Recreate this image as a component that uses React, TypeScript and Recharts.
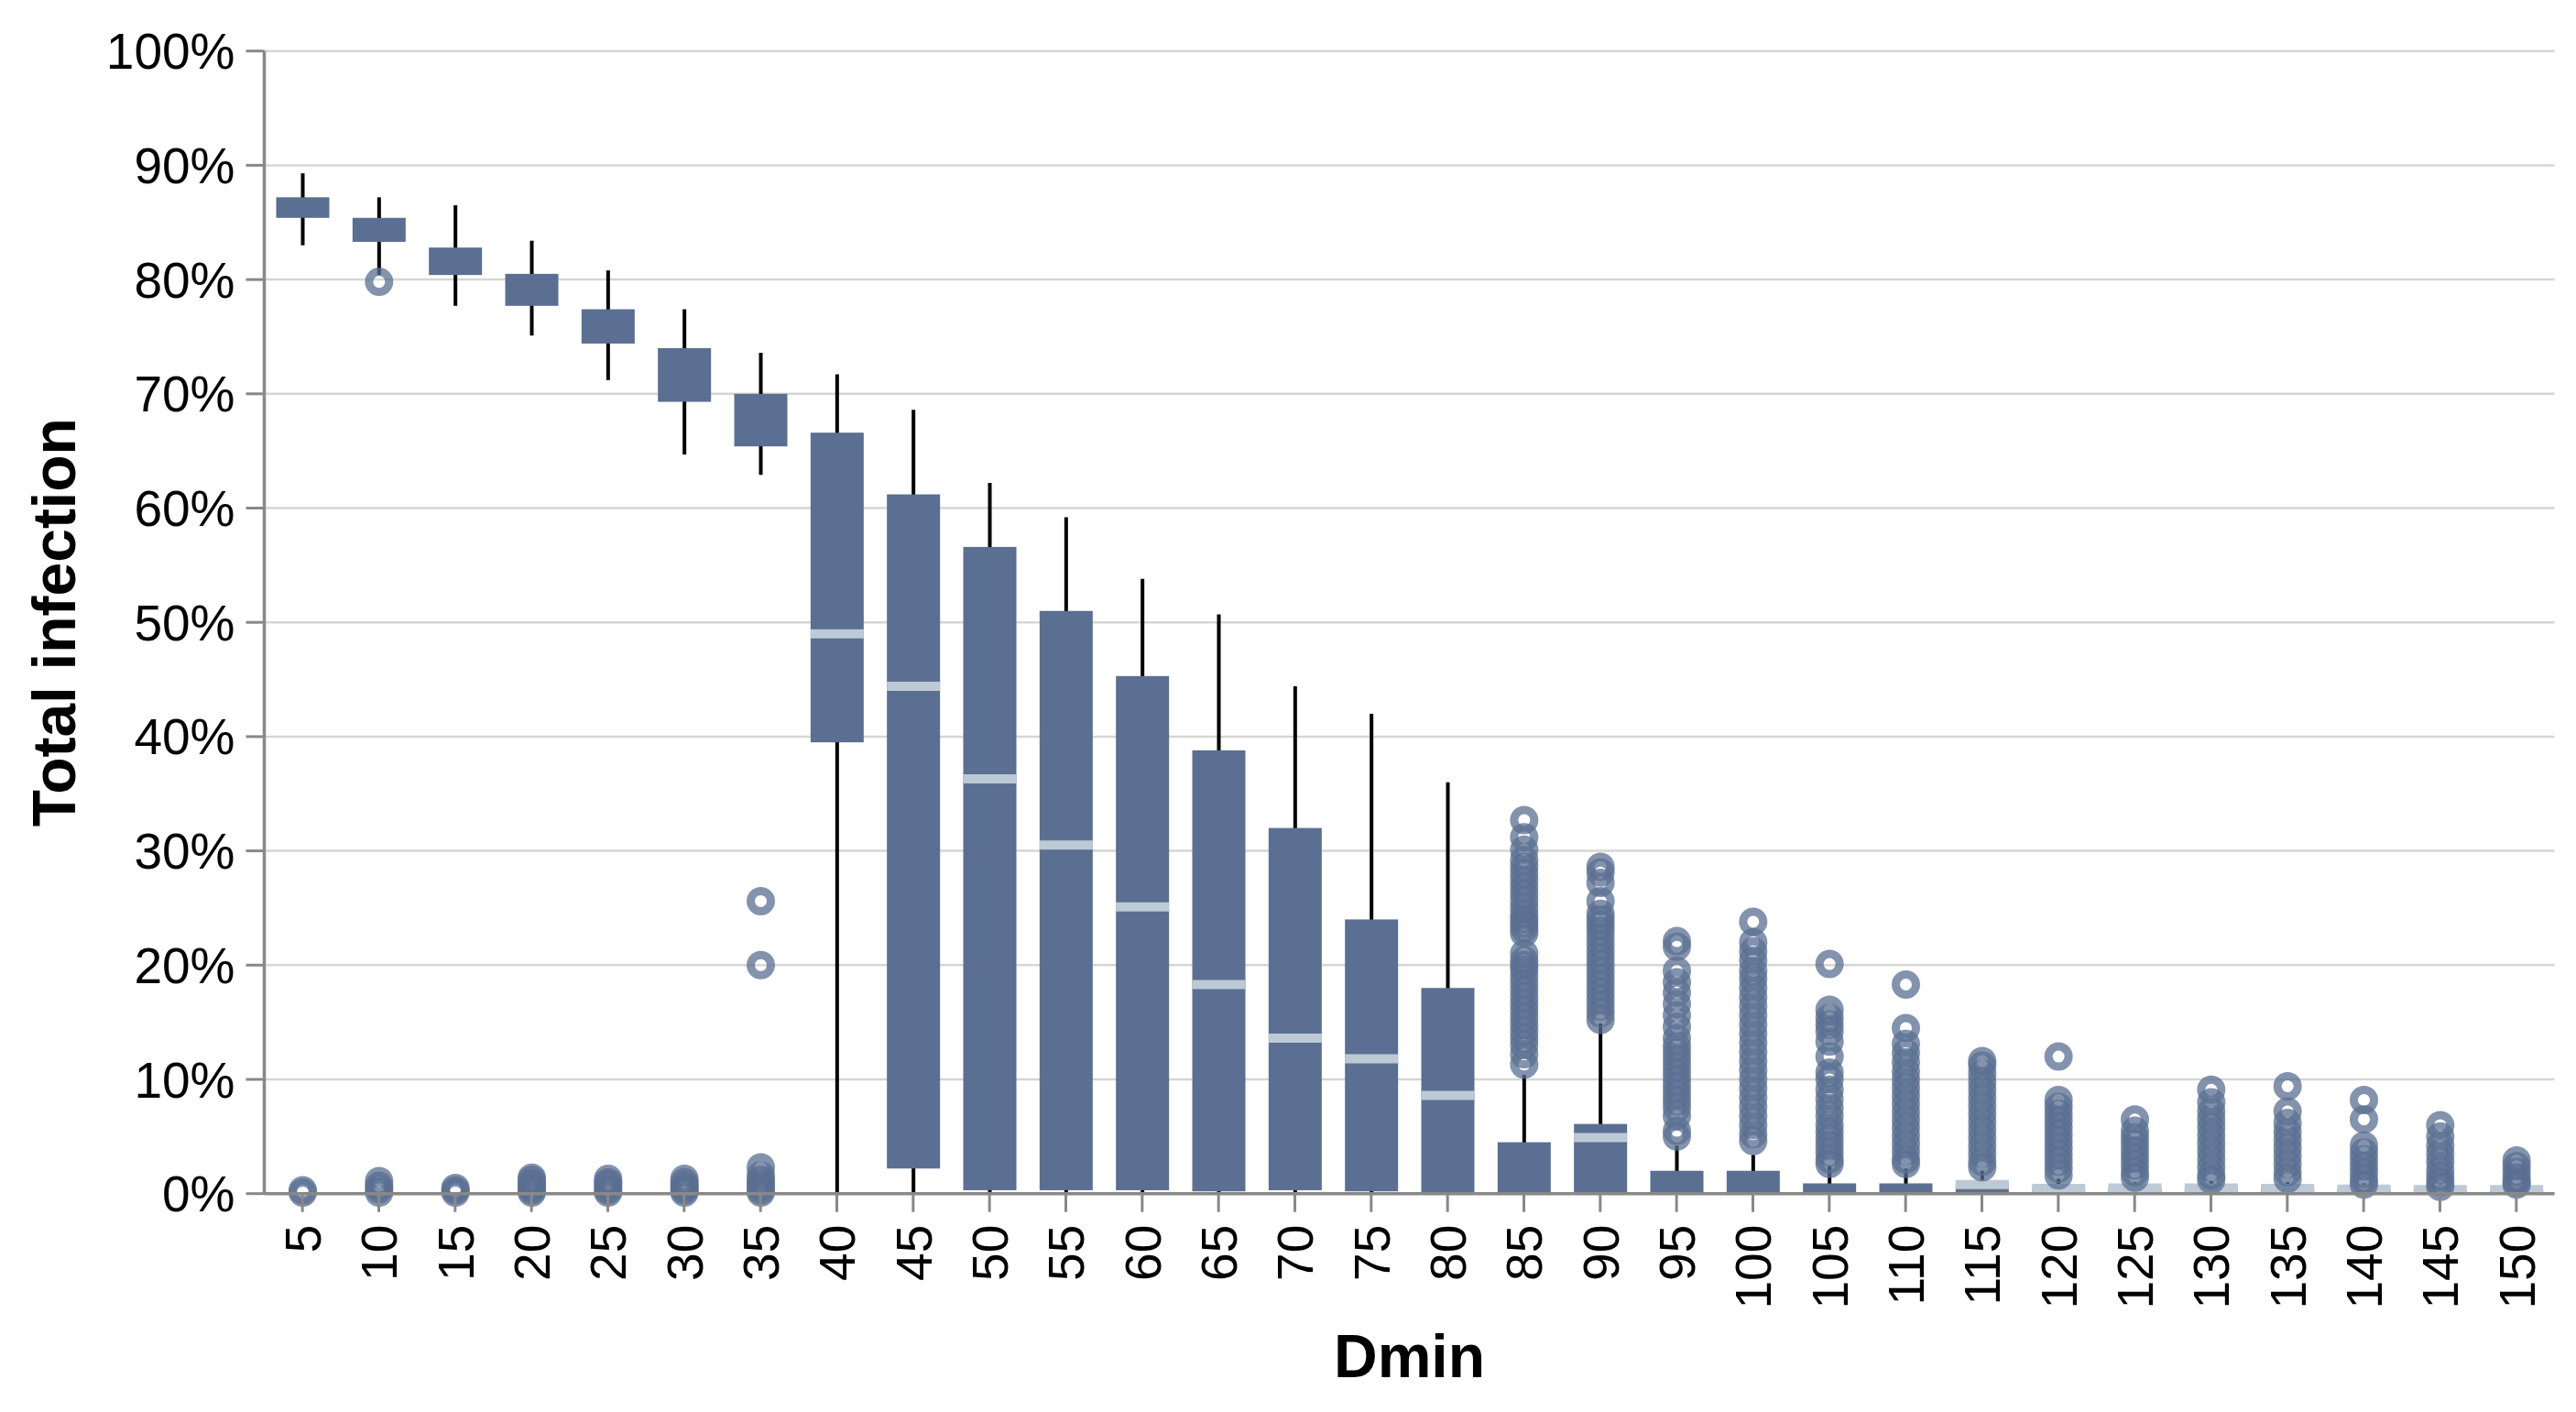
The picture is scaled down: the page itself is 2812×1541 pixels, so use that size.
import React from "react";
import { Bar, CartesianGrid, ComposedChart, XAxis, YAxis } from "recharts";

// Dmin categories
const dmin = [
  5, 10, 15, 20, 25, 30, 35, 40, 45, 50, 55, 60, 65, 70, 75, 80, 85, 90, 95,
  100, 105, 110, 115, 120, 125, 130, 135, 140, 145, 150,
];

// box plot stats, in % of total infection
const whiskerLow = [
  83.0, 80.4, 77.7, 75.1, 71.2, 64.7, 62.9, 0, 0, 0, 0, 0, 0, 0, 0, 0, 0, 0, 0,
  0, 0, 0, 0, 0, 0, 0, 0, 0, 0, 0,
];
const q1 = [
  85.4, 83.3, 80.4, 77.7, 74.4, 69.3, 65.4, 39.5, 2.2, 0.3, 0.3, 0.3, 0.2, 0.3,
  0.2, 0.1, 0, 0.1, 0, 0, 0, 0, 0, 0, 0, 0, 0, 0, 0, 0,
];
const median = [
  null, null, null, null, null, null, null, 49.0, 44.4, 36.3, 30.5, 25.1, 18.3,
  13.6, 11.8, 8.6, null, 4.9, null, null, null, null, 0.8, 0.45, 0.5, 0.5, 0.45,
  0.4, 0.35, 0.35,
];
const q3 = [
  87.2, 85.4, 82.8, 80.5, 77.4, 74.0, 70.0, 66.6, 61.2, 56.6, 51.0, 45.3, 38.8,
  32.0, 24.0, 18.0, 4.5, 6.1, 2.0, 2.0, 0.9, 0.9, 0.9, 0.4, 0.5, 0.5, 0.5, 0.4,
  0.3, 0.3,
];
const whiskerHigh = [
  89.3, 87.2, 86.5, 83.4, 80.8, 77.4, 73.6, 71.7, 68.6, 62.2, 59.2, 53.8, 50.7,
  44.4, 42.0, 36.0, 10.4, 14.9, 4.2, 3.4, 2.4, 2.2, 2.0, 1.3, 1.0, 1.1, 1.0,
  0.9, 0.8, 0.7,
];
const outliers = [
  [0.1, 0.3],
  [79.8, 0.1, 0.4, 0.7, 1.1],
  [0.1, 0.3, 0.5],
  [0.1, 0.3, 0.5, 0.7, 0.9, 1.2, 1.4],
  [0.1, 0.3, 0.5, 0.8, 1.0, 1.3],
  [0.1, 0.3, 0.5, 0.7, 1.0, 1.3],
  [25.6, 20.0, 2.3, 1.6, 1.2, 0.9, 0.6, 0.3, 0.1],
  [],
  [],
  [],
  [],
  [],
  [],
  [],
  [],
  [],
  [
    32.7, 31.2, 30.1, 29.2, 28.6, 28.0, 27.4, 26.8, 26.2, 25.6, 25.0, 24.4,
    24.0, 23.6, 23.2, 22.8, 21.0, 20.4, 20.0, 19.6, 19.0, 18.4, 17.8, 17.2,
    16.6, 16.0, 15.4, 14.8, 14.2, 13.6, 13.0, 12.2, 11.3,
  ],
  [
    28.6, 28.1, 27.2, 25.6, 24.5, 24.0, 23.5, 23.0, 22.4, 21.8, 21.2, 20.6,
    20.0, 19.4, 18.8, 18.2, 17.6, 17.0, 16.4, 15.8, 15.2,
  ],
  [
    22.1, 21.6, 19.5, 18.5, 17.6, 16.6, 15.6, 14.6, 13.6, 12.9, 12.3, 11.7,
    11.1, 10.5, 9.9, 9.3, 8.7, 8.1, 7.5, 6.8, 5.5, 5.0,
  ],
  [
    23.8, 22.0, 21.2, 20.4, 19.5, 18.8, 18.0, 17.2, 16.4, 15.6, 14.8, 14.0,
    13.2, 12.4, 11.6, 10.8, 10.0, 9.2, 8.4, 7.6, 6.8, 6.0, 5.2, 4.6,
  ],
  [
    20.1, 16.1, 15.4, 14.8, 14.2, 13.3, 12.0, 10.6, 10.0, 9.1, 8.3, 7.5, 6.8,
    6.0, 5.4, 4.8, 4.2, 3.6, 3.0, 2.6,
  ],
  [
    18.3, 14.5, 13.1, 12.3, 11.5, 10.7, 10.0, 9.3, 8.6, 7.9, 7.2, 6.5, 5.8, 5.1,
    4.4, 3.7, 3.0, 2.6,
  ],
  [11.6, 11.2, 10.5, 9.8, 9.1, 8.4, 7.7, 7.0, 6.3, 5.6, 4.9, 4.2, 3.5, 2.8, 2.3],
  [12.0, 8.2, 7.6, 7.0, 6.4, 5.8, 5.2, 4.6, 4.0, 3.4, 2.8, 2.2, 1.6],
  [6.5, 5.5, 4.9, 4.3, 3.7, 3.1, 2.5, 1.9, 1.4],
  [9.1, 8.0, 7.2, 6.5, 5.8, 5.1, 4.4, 3.7, 3.0, 2.3, 1.6, 1.2],
  [9.4, 7.2, 6.2, 5.4, 4.7, 4.0, 3.3, 2.6, 1.9, 1.3],
  [8.2, 6.5, 4.2, 3.6, 3.0, 2.4, 1.8, 1.2, 0.8],
  [6.0, 5.0, 4.2, 3.5, 2.8, 2.1, 1.5, 1.0, 0.6],
  [2.9, 2.4, 1.9, 1.4, 1.0, 0.8],
];
const yTicks = [0, 10, 20, 30, 40, 50, 60, 70, 80, 90, 100];

const data = dmin.map((d, i) => ({
  dmin: d,
  lo: whiskerLow[i],
  q1: q1[i],
  median: median[i],
  q3: q3[i],
  hi: whiskerHigh[i],
  outliers: outliers[i],
}));

const FONT = '"Liberation Sans", Arial, Helvetica, sans-serif';
const BOX = "#5a6f91";
const MEDIAN = "#bdcad6";

// draws whisker, box, median and outliers for one category.
// y/height come from the bar range [lo, hi], so we reuse that linear mapping
const BoxShape = (props: any) => {
  const { x, y, width, height, payload } = props;
  const { lo, hi } = payload;
  const toY = (v: number) => y + ((hi - v) / (hi - lo)) * height;
  const cx = x + width / 2;
  return (
    <g>
      <line x1={cx} x2={cx} y1={toY(hi)} y2={toY(lo)} stroke="#000" strokeWidth={4} />
      <rect
        x={x}
        y={toY(payload.q3)}
        width={width}
        height={Math.max(toY(payload.q1) - toY(payload.q3), 1)}
        fill={BOX}
      />
      {payload.median != null && (
        <line
          x1={x}
          x2={x + width}
          y1={toY(payload.median)}
          y2={toY(payload.median)}
          stroke={MEDIAN}
          strokeWidth={10}
        />
      )}
      {payload.outliers.map((o: number, i: number) => (
        <circle
          key={i}
          cx={cx}
          cy={toY(o)}
          r={11}
          fill="none"
          stroke={BOX}
          strokeOpacity={0.75}
          strokeWidth={9}
        />
      ))}
    </g>
  );
};

const XTick = (props: any) => {
  const { x, y, payload } = props;
  return (
    <text
      x={x}
      y={y}
      transform={`rotate(-90, ${x}, ${y})`}
      textAnchor="end"
      dy="0.36em"
      fontSize={55}
      fontFamily={FONT}
      fill="#000"
    >
      {payload.value}
    </text>
  );
};

const App = () => {
  return (
    <div style={{ width: 2796, height: 1525, background: "#fff" }}>
      <ComposedChart
        width={2796}
        height={1525}
        data={data}
        margin={{ top: 47.7, right: 15.5, bottom: 0, left: 0 }}
      >
        <CartesianGrid vertical={false} stroke="#d6d6d1" strokeWidth={2.5} />
        <XAxis
          dataKey="dmin"
          interval={0}
          height={230.3}
          tickSize={20}
          tickMargin={14}
          tick={XTick}
          axisLine={{ stroke: "#888", strokeWidth: 3.5 }}
          tickLine={{ stroke: "#888", strokeWidth: 3 }}
          label={{
            value: "Dmin",
            position: "insideBottom",
            offset: 30.3,
            style: { fontSize: 66, fontWeight: 700, fill: "#000", fontFamily: FONT },
          }}
        />
        <YAxis
          type="number"
          domain={[0, 100]}
          ticks={yTicks}
          width={280.5}
          tickSize={20}
          tickMargin={12}
          tickFormatter={(v) => `${v}%`}
          tick={{ fontSize: 55, fill: "#000", fontFamily: FONT }}
          axisLine={{ stroke: "#888", strokeWidth: 3.5 }}
          tickLine={{ stroke: "#888", strokeWidth: 3 }}
          label={{
            value: "Total infection",
            angle: -90,
            position: "insideLeft",
            offset: 51,
            style: {
              textAnchor: "middle",
              fontSize: 66,
              fontWeight: 700,
              fill: "#000",
              fontFamily: FONT,
            },
          }}
        />
        <YAxis
          yAxisId="right"
          orientation="right"
          type="number"
          domain={[0, 100]}
          width={0}
          tick={false}
          tickLine={false}
          axisLine={{ stroke: "#d6d6d1", strokeWidth: 2.5 }}
        />
        <Bar
          dataKey={(d: any) => [d.lo, d.hi]}
          barSize={58}
          shape={BoxShape}
          isAnimationActive={false}
        />
      </ComposedChart>
    </div>
  );
};

export default App;
